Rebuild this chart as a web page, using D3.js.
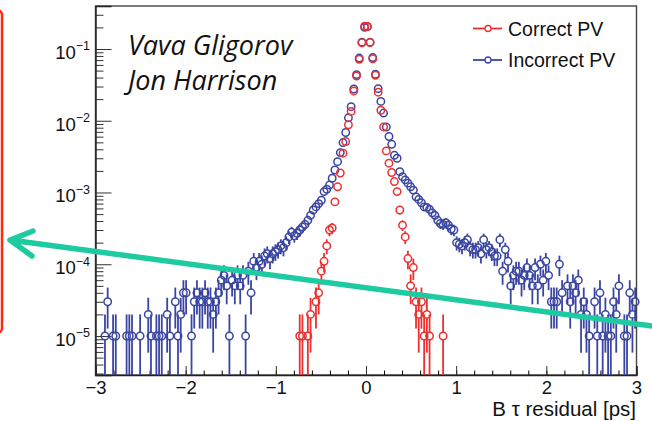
<!DOCTYPE html>
<html>
<head>
<meta charset="utf-8">
<script src="https://cdn.jsdelivr.net/npm/d3@7"></script>
<style>
body { margin: 0; background: #fff; }
svg { display: block; font-family: "Liberation Sans", Arial, sans-serif; }
</style>
</head>
<body>
<svg id="chart" width="652" height="421"></svg>
<script>
// histogram binning: 200 bins on [-3, 3]
var xMin = -3, xMax = 3, binWidth = 0.03;
var totalEntries = 100000; // one entry = 1e-5 after normalisation

var xTicks = [-3, -2, -1, 0, 1, 2, 3];
var yDecades = [-5, -4, -3, -2, -1];
var seriesNames = ["Correct PV", "Incorrect PV"];
var authors = ["Vava Gligorov", "Jon Harrison"];

// Incorrect PV: entries per bin, bins 0..199
var incorrectCounts = [
  0,0,0,1,3,0,1,1,0,0, 0,1,1,1,0,0,1,0,0,2,
  1,0,1,1,1,0,2,1,0,3, 1,2,4,4,0,1,3,4,3,3,
  4,3,3,2,3,4,6,7,5,1, 6,5,7,5,7,1,8,4,11,9,
  11,10,13,14,12,14,15,16,18,17, 20,24,28,25,27,30,33,36,41,48,
  57,63,70,78,103,111,127,158,206,269, 360,497,686,1100,1570,2770,4400,7480,12450,20000,
  20500,12450,7600,4450,2800,1860,1280,817,603,470, 330,300,195,166,150,135,120,108,87,80,
  72,63,62,58,52,48,41,37,36,38, 35,31,30,20,19,18,20,22,17,16,
  16,17,14,22,16,17,15,13,13,22, 8,16,11,5,7,8,8,6,7,9,
  7,5,9,5,10,6,11,7,3,3, 3,10,4,0,5,3,5,4,6,2,
  3,2,1,0,3,1,4,1,2,1, 1,3,2,5,0,1,1,4,2,3
];

// Correct PV: entries per bin, bins 75..128 (all others empty)
var correctStartBin = 75;
var correctCounts = [
  1,1,0,1,2, 0,3,4,8,11, 18,30,32,74,120, 187,353,513,880,1350, 2600,4200,7200,12200,20800,
  20600,12300,7300,4300,2500, 1400,820,380,256,190, 142,103,57,35,24, 12,5,9,3,2, 3,1,2,1,0, 0,0,0,1
];

var colors = { correct: "#ee2f2f", incorrect: "#3a45a2" };

var svg = d3.select("#chart");
var frame = { left: 95.5, right: 636.5, top: 6, bottom: 375 };

var x = d3.scaleLinear().domain([xMin, xMax]).range([frame.left, frame.right]);
var y = d3.scaleLog().domain([Math.pow(10, -5.5436), Math.pow(10, -0.4007)]).range([frame.bottom, frame.top]);

function toPoints(counts, startBin) {
  var pts = [];
  counts.forEach(function(n, k) {
    if (n <= 0) return;
    var i = startBin + k;
    pts.push({ x: xMin + (i + 0.5) * binWidth, v: n / totalEntries, e: Math.sqrt(n) / totalEntries });
  });
  return pts;
}

var incorrectPts = toPoints(incorrectCounts, 0);
var correctPts = toPoints(correctCounts, correctStartBin);

// frame
svg.append("rect")
    .attr("x", frame.left).attr("y", frame.top)
    .attr("width", frame.right - frame.left).attr("height", frame.bottom - frame.top)
    .attr("fill", "none").attr("stroke", "#444").attr("stroke-width", 1.4);

// x axis ticks (inside the frame)
var xMinor = d3.range(-30, 31, 2).map(function(d) { return d / 10; });
svg.append("g")
    .attr("transform", "translate(0," + frame.bottom + ")")
    .call(d3.axisBottom(x).tickValues(xMinor).tickSize(-4.5).tickFormat(""))
    .call(function(g) { g.select(".domain").remove(); });
var xAxis = svg.append("g")
    .attr("transform", "translate(0," + frame.bottom + ")")
    .call(d3.axisBottom(x).tickValues(xTicks).tickSize(-9).tickPadding(6).tickFormat(d3.format("d")));
xAxis.select(".domain").attr("stroke", "#222").attr("stroke-width", 1.4);
xAxis.selectAll("text").attr("font-size", 18.5).attr("fill", "#111")
    .attr("font-family", "Liberation Sans, Arial, sans-serif");
xAxis.selectAll("line").attr("stroke", "#333");

// y axis ticks
var yMinor = [];
[-6, -5, -4, -3, -2, -1].forEach(function(d) {
  for (var k = 2; k <= 9; k++) {
    var v = k * Math.pow(10, d);
    if (v > y.domain()[0] && v < y.domain()[1]) yMinor.push(v);
  }
});
var yMajor = yDecades.map(function(d) { return Math.pow(10, d); });
svg.append("g")
    .attr("transform", "translate(" + frame.left + ",0)")
    .call(d3.axisLeft(y).tickValues(yMinor).tickSize(-8).tickFormat(""))
    .call(function(g) { g.select(".domain").remove(); g.selectAll("line").attr("stroke", "#333"); });
var yAxis = svg.append("g")
    .attr("transform", "translate(" + frame.left + ",0)")
    .call(d3.axisLeft(y).tickValues(yMajor).tickSize(-16).tickFormat(""));
yAxis.select(".domain").attr("stroke", "#222").attr("stroke-width", 1.4);
yAxis.selectAll("line").attr("stroke", "#333");

var yLabels = svg.append("g").attr("fill", "#111");
yDecades.forEach(function(d) {
  var t = yLabels.append("text")
      .attr("x", 90).attr("y", y(Math.pow(10, d)) + 10)
      .attr("text-anchor", "end").attr("font-size", 18.5);
  t.append("tspan").text("10");
  t.append("tspan").attr("dy", -8.5).attr("font-size", 12.5).text("\u2212" + (-d));
});

svg.append("text")
    .attr("x", 636).attr("y", 416)
    .attr("text-anchor", "end").attr("font-size", 20.5).attr("fill", "#111")
    .text("B \u03c4 residual [ps]");

// data: open circles with error bars that stop at the marker
var r = 3.7;
function drawSeries(pts, color) {
  var g = svg.append("g");
  pts.forEach(function(p) {
    var cx = x(p.x), cy = y(p.v);
    var yTop = y(p.v + p.e);
    var lo = p.v - p.e;
    var yBot = lo > y.domain()[0] ? y(lo) : frame.bottom;
    if (yTop < cy - r) g.append("line").attr("x1", cx).attr("x2", cx).attr("y1", yTop).attr("y2", cy - r);
    if (yBot > cy + r) g.append("line").attr("x1", cx).attr("x2", cx).attr("y1", cy + r).attr("y2", yBot);
  });
  g.selectAll("line").attr("stroke", color).attr("stroke-width", 1.8);
  g.selectAll("circle").data(pts).enter().append("circle")
      .attr("cx", function(d) { return x(d.x); })
      .attr("cy", function(d) { return y(d.v); })
      .attr("r", r)
      .attr("fill", "none").attr("stroke", color).attr("stroke-width", 1.5);
}
drawSeries(incorrectPts, colors.incorrect);
drawSeries(correctPts, colors.correct);

// legend
var legend = svg.append("g");
[[seriesNames[0], colors.correct], [seriesNames[1], colors.incorrect]].forEach(function(s, i) {
  var ly = 28.5 + i * 31.5;
  legend.append("line").attr("x1", 473).attr("x2", 502).attr("y1", ly).attr("y2", ly)
      .attr("stroke", s[1]).attr("stroke-width", 1.8);
  legend.append("circle").attr("cx", 488).attr("cy", ly).attr("r", 3)
      .attr("fill", "#fff").attr("stroke", s[1]).attr("stroke-width", 1.3);
  legend.append("text").attr("x", 508).attr("y", ly + 7)
      .attr("font-size", 19.5).attr("fill", "#111").text(s[0]);
});

// author names
authors.forEach(function(a, i) {
  svg.append("text").attr("x", 128).attr("y", 55 + i * 35)
      .attr("font-family", "Open Sans, sans-serif").attr("font-style", "italic")
      .attr("font-size", 27).attr("fill", "#111").text(a);
});

// red box edge at the left border
svg.append("rect")
    .attr("x", -40).attr("y", 10).attr("width", 42).attr("height", 323).attr("rx", 5)
    .attr("fill", "none").attr("stroke", "#ff2a12").attr("stroke-width", 2.5);

// teal arrow
svg.append("path")
    .attr("d", "M655,326.5 L10,240 M33,231 L10,240 L32,256")
    .attr("fill", "none").attr("stroke", "#1ecba0").attr("stroke-width", 5.5)
    .attr("stroke-linecap", "round").attr("stroke-linejoin", "round");
</script>
</body>
</html>
